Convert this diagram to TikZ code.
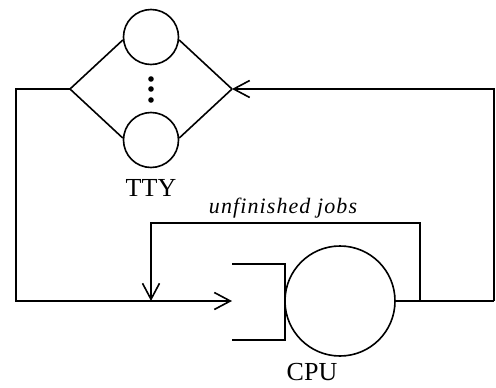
\documentclass[tikz,border=0pt]{standalone}
\usepackage{fontspec}
\setmainfont{Liberation Serif}
\usetikzlibrary{arrows.meta}
\begin{document}
\begin{tikzpicture}[x=1pt,y=-1pt,
  line/.style={line width=1.6pt},
  arr/.style={line, -{Straight Barb[length=16pt,width=17pt,line width=1.6pt]}},
  srv/.style={draw, circle, line width=1.6pt, inner sep=0pt},
  lbl/.style={font=\fontsize{26}{28}\selectfont}]
\useasboundingbox (0,0) rectangle (496,388);
% TTY
\node[srv, minimum size=55pt] (t1) at (151,37) {};
\node[srv, minimum size=55pt] (t2) at (151,140) {};
\coordinate (tl) at (70,89);
\coordinate (tr) at (232,89);
\draw[line] (tl) -- (t1.186) (t1.-6) -- (tr);
\draw[line] (tl) -- (t2.176) (t2.4) -- (tr);
\foreach \y in {79,89,100} \fill (151,\y) circle (2.8pt);
\node[lbl] (tty) at (151,188) {TTY};
% CPU
\node[srv, minimum size=110pt] (cpu) at (340,301) {};
\draw[line] (232,264) -- (285,264) -- (285,340) -- (232,340);
\coordinate (qin) at (232,301);
\node[lbl, anchor=base, inner sep=0pt] (cpul) at (312,380) {CPU};
% connectors
\coordinate (lt) at (16,89);
\coordinate (lb) at (16,301);
\coordinate (rb) at (494,301);
\coordinate (rt) at (494,89);
\coordinate (ufr) at (420,301);
\coordinate (ufl) at (151,301);
\draw[arr] (tl) -- (lt) -- (lb) -- (qin);
\draw[line] (cpu.east) -- (rb);
\draw[arr] (rb) -- (rt) -- (tr);
\draw[arr] (ufr) -- (420,223) -- (151,223) -- (ufl);
\node[font=\fontsize{22}{24}\selectfont\itshape\addfontfeatures{LetterSpace=5}, anchor=base] (uj) at (283,213) {unfinished jobs};
\end{tikzpicture}
\end{document}
